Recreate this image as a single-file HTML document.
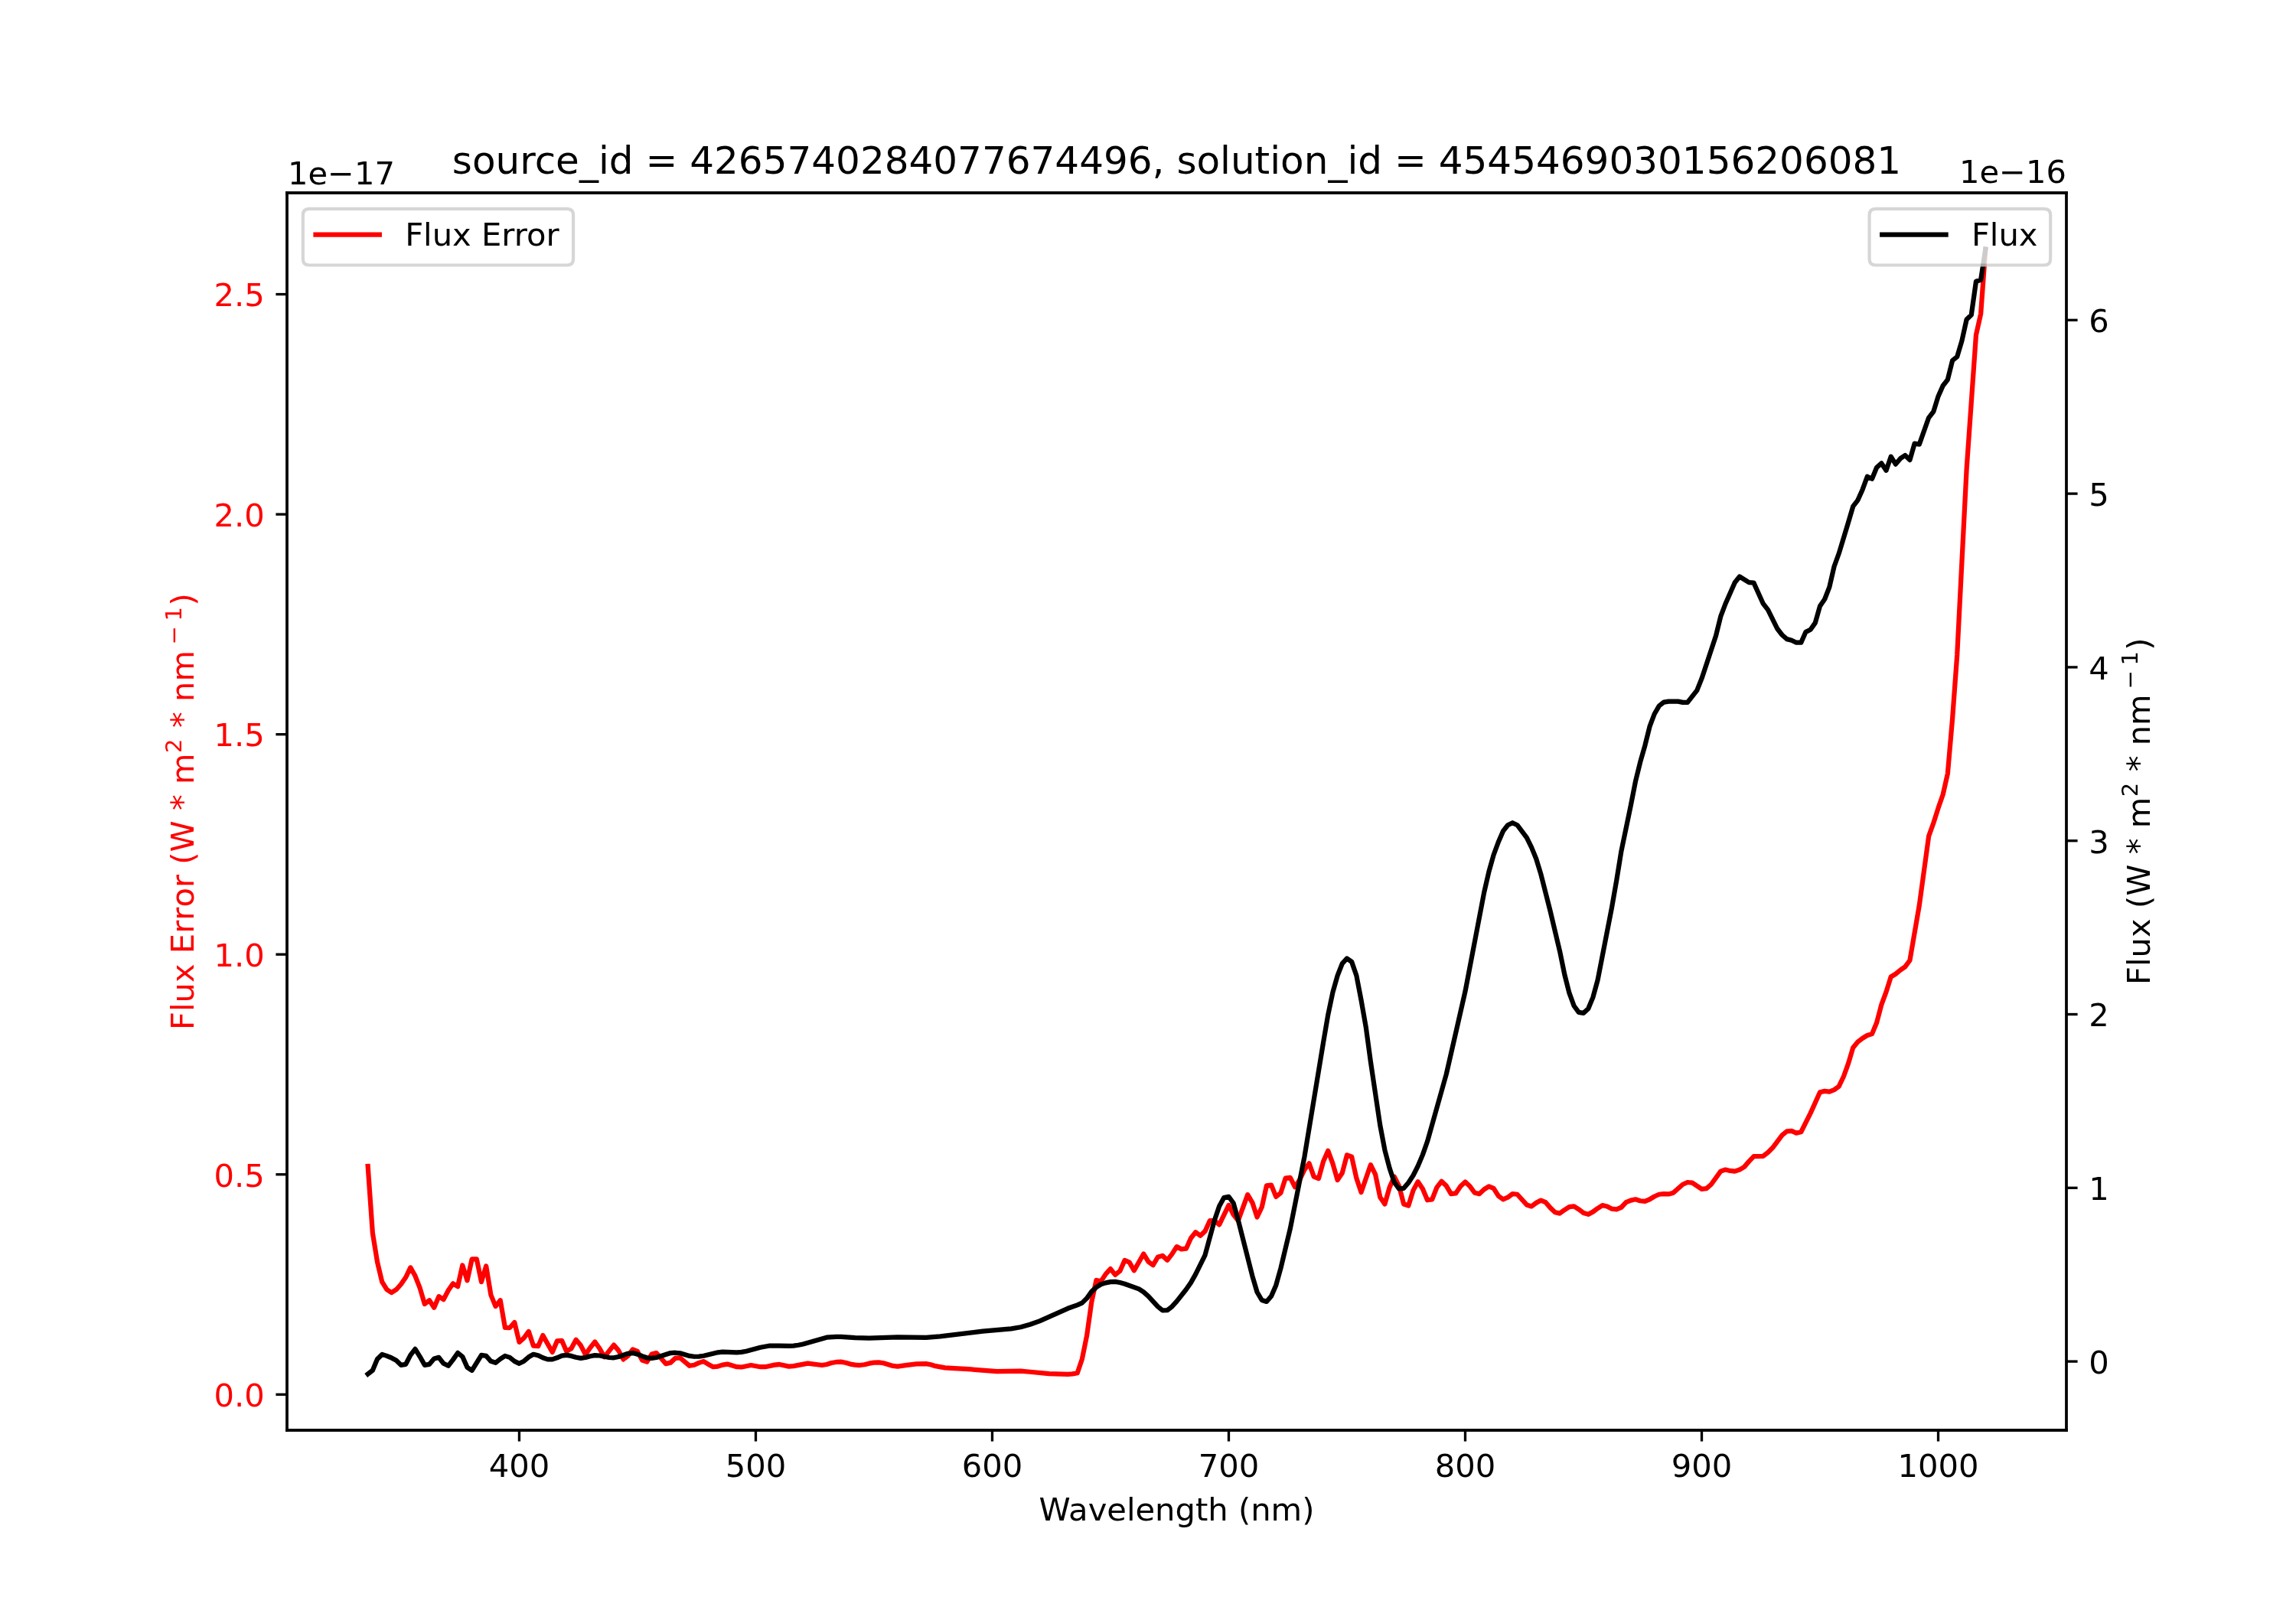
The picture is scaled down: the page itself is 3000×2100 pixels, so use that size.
<!DOCTYPE html>
<html><head><meta charset="utf-8"><style>html,body{margin:0;padding:0;background:#fff;overflow:hidden}svg{display:block;will-change:transform}</style></head><body>
<svg width="3000" height="2100" viewBox="0 0 720 504" version="1.1">
 <defs>
  <style type="text/css">*{stroke-linejoin: round; stroke-linecap: butt}</style>
 </defs>
 <g id="figure_1">
  <g id="patch_1">
   <path d="M 0 504 L 720 504 L 720 0 L 0 0 z" style="fill: #ffffff"/>
  </g>
  <g id="axes_1">
   <g id="patch_2">
    <path d="M 90 448.56 L 648 448.56 L 648 60.48 L 90 60.48 z" style="fill: #ffffff"/>
   </g>
   <g id="matplotlib.axis_1">
    <g id="xtick_1">
     <g id="line2d_1">
      <g>
       <path d="M 0 0 L 0 3.5" transform="translate(162.827751 448.56)" style="stroke: #000000; stroke-width: 0.8"/>
      </g>
     </g>
     <g id="text_1">
      <text style="font-size: 10px; font-family: 'DejaVu Sans', sans-serif; text-anchor: middle" x="162.827751" y="463.158437" transform="rotate(-0 162.827751 463.158437)">400</text>
     </g>
    </g>
    <g id="xtick_2">
     <g id="line2d_2">
      <g>
       <path d="M 0 0 L 0 3.5" transform="translate(236.990431 448.56)" style="stroke: #000000; stroke-width: 0.8"/>
      </g>
     </g>
     <g id="text_2">
      <text style="font-size: 10px; font-family: 'DejaVu Sans', sans-serif; text-anchor: middle" x="236.990431" y="463.158437" transform="rotate(-0 236.990431 463.158437)">500</text>
     </g>
    </g>
    <g id="xtick_3">
     <g id="line2d_3">
      <g>
       <path d="M 0 0 L 0 3.5" transform="translate(311.15311 448.56)" style="stroke: #000000; stroke-width: 0.8"/>
      </g>
     </g>
     <g id="text_3">
      <text style="font-size: 10px; font-family: 'DejaVu Sans', sans-serif; text-anchor: middle" x="311.15311" y="463.158437" transform="rotate(-0 311.15311 463.158437)">600</text>
     </g>
    </g>
    <g id="xtick_4">
     <g id="line2d_4">
      <g>
       <path d="M 0 0 L 0 3.5" transform="translate(385.315789 448.56)" style="stroke: #000000; stroke-width: 0.8"/>
      </g>
     </g>
     <g id="text_4">
      <text style="font-size: 10px; font-family: 'DejaVu Sans', sans-serif; text-anchor: middle" x="385.315789" y="463.158437" transform="rotate(-0 385.315789 463.158437)">700</text>
     </g>
    </g>
    <g id="xtick_5">
     <g id="line2d_5">
      <g>
       <path d="M 0 0 L 0 3.5" transform="translate(459.478469 448.56)" style="stroke: #000000; stroke-width: 0.8"/>
      </g>
     </g>
     <g id="text_5">
      <text style="font-size: 10px; font-family: 'DejaVu Sans', sans-serif; text-anchor: middle" x="459.478469" y="463.158437" transform="rotate(-0 459.478469 463.158437)">800</text>
     </g>
    </g>
    <g id="xtick_6">
     <g id="line2d_6">
      <g>
       <path d="M 0 0 L 0 3.5" transform="translate(533.641148 448.56)" style="stroke: #000000; stroke-width: 0.8"/>
      </g>
     </g>
     <g id="text_6">
      <text style="font-size: 10px; font-family: 'DejaVu Sans', sans-serif; text-anchor: middle" x="533.641148" y="463.158437" transform="rotate(-0 533.641148 463.158437)">900</text>
     </g>
    </g>
    <g id="xtick_7">
     <g id="line2d_7">
      <g>
       <path d="M 0 0 L 0 3.5" transform="translate(607.803828 448.56)" style="stroke: #000000; stroke-width: 0.8"/>
      </g>
     </g>
     <g id="text_7">
      <text style="font-size: 10px; font-family: 'DejaVu Sans', sans-serif; text-anchor: middle" x="607.803828" y="463.158437" transform="rotate(-0 607.803828 463.158437)">1000</text>
     </g>
    </g>
    <g id="text_8">
     <text style="font-size: 10px; font-family: 'DejaVu Sans', sans-serif; text-anchor: middle" x="369" y="476.836563" transform="rotate(-0 369 476.836563)">Wavelength (nm)</text>
    </g>
   </g>
   <g id="matplotlib.axis_2">
    <g id="ytick_1">
     <g id="line2d_8">
      <g>
       <path d="M 0 0 L -3.5 0" transform="translate(90 437.352)" style="stroke: #000000; stroke-width: 0.8"/>
      </g>
     </g>
     <g id="text_9">
      <text style="font-size: 10px; font-family: 'DejaVu Sans', sans-serif; text-anchor: end; fill: #ff0000" x="83" y="441.151219" transform="rotate(-0 83 441.151219)">0.0</text>
     </g>
    </g>
    <g id="ytick_2">
     <g id="line2d_9">
      <g>
       <path d="M 0 0 L -3.5 0" transform="translate(90 368.34)" style="stroke: #000000; stroke-width: 0.8"/>
      </g>
     </g>
     <g id="text_10">
      <text style="font-size: 10px; font-family: 'DejaVu Sans', sans-serif; text-anchor: end; fill: #ff0000" x="83" y="372.139219" transform="rotate(-0 83 372.139219)">0.5</text>
     </g>
    </g>
    <g id="ytick_3">
     <g id="line2d_10">
      <g>
       <path d="M 0 0 L -3.5 0" transform="translate(90 299.328)" style="stroke: #000000; stroke-width: 0.8"/>
      </g>
     </g>
     <g id="text_11">
      <text style="font-size: 10px; font-family: 'DejaVu Sans', sans-serif; text-anchor: end; fill: #ff0000" x="83" y="303.127219" transform="rotate(-0 83 303.127219)">1.0</text>
     </g>
    </g>
    <g id="ytick_4">
     <g id="line2d_11">
      <g>
       <path d="M 0 0 L -3.5 0" transform="translate(90 230.316)" style="stroke: #000000; stroke-width: 0.8"/>
      </g>
     </g>
     <g id="text_12">
      <text style="font-size: 10px; font-family: 'DejaVu Sans', sans-serif; text-anchor: end; fill: #ff0000" x="83" y="234.115219" transform="rotate(-0 83 234.115219)">1.5</text>
     </g>
    </g>
    <g id="ytick_5">
     <g id="line2d_12">
      <g>
       <path d="M 0 0 L -3.5 0" transform="translate(90 161.304)" style="stroke: #000000; stroke-width: 0.8"/>
      </g>
     </g>
     <g id="text_13">
      <text style="font-size: 10px; font-family: 'DejaVu Sans', sans-serif; text-anchor: end; fill: #ff0000" x="83" y="165.103219" transform="rotate(-0 83 165.103219)">2.0</text>
     </g>
    </g>
    <g id="ytick_6">
     <g id="line2d_13">
      <g>
       <path d="M 0 0 L -3.5 0" transform="translate(90 92.292)" style="stroke: #000000; stroke-width: 0.8"/>
      </g>
     </g>
     <g id="text_14">
      <text style="font-size: 10px; font-family: 'DejaVu Sans', sans-serif; text-anchor: end; fill: #ff0000" x="83" y="96.091219" transform="rotate(-0 83 96.091219)">2.5</text>
     </g>
    </g>
    <g id="text_15">
     <!-- Flux Error (W $*$ m$^2$ $*$ nm$^{-1}$) -->
     <g style="fill: #ff0000" transform="translate(61.593187 321.370000) rotate(-90)">
      <text>
       <tspan x="-1.680000" y="-0.976562" style="font-size: 10px; font-family: 'DejaVu Sans', sans-serif; fill: #ff0000">F</tspan>
       <tspan x="4.071953" y="-0.976562" style="font-size: 10px; font-family: 'DejaVu Sans', sans-serif; fill: #ff0000">l</tspan>
       <tspan x="6.850273" y="-0.976562" style="font-size: 10px; font-family: 'DejaVu Sans', sans-serif; fill: #ff0000">u</tspan>
       <tspan x="13.188164" y="-0.976562" style="font-size: 10px; font-family: 'DejaVu Sans', sans-serif; fill: #ff0000">x</tspan>
       <tspan x="19.106133" y="-0.976562" style="font-size: 10px; font-family: 'DejaVu Sans', sans-serif; fill: #ff0000"> </tspan>
       <tspan x="22.284844" y="-0.976562" style="font-size: 10px; font-family: 'DejaVu Sans', sans-serif; fill: #ff0000">E</tspan>
       <tspan x="28.603203" y="-0.976562" style="font-size: 10px; font-family: 'DejaVu Sans', sans-serif; fill: #ff0000">r</tspan>
       <tspan x="32.714531" y="-0.976562" style="font-size: 10px; font-family: 'DejaVu Sans', sans-serif; fill: #ff0000">r</tspan>
       <tspan x="36.825859" y="-0.976562" style="font-size: 10px; font-family: 'DejaVu Sans', sans-serif; fill: #ff0000">o</tspan>
       <tspan x="42.944023" y="-0.976562" style="font-size: 10px; font-family: 'DejaVu Sans', sans-serif; fill: #ff0000">r</tspan>
       <tspan x="47.055352" y="-0.976562" style="font-size: 10px; font-family: 'DejaVu Sans', sans-serif; fill: #ff0000"> </tspan>
       <tspan x="50.234062" y="-0.976562" style="font-size: 10px; font-family: 'DejaVu Sans', sans-serif; fill: #ff0000">(</tspan>
       <tspan x="54.135430" y="-0.976562" style="font-size: 10px; font-family: 'DejaVu Sans', sans-serif; fill: #ff0000">W</tspan>
       <tspan x="64.023125" y="-0.976562" style="font-size: 10px; font-family: 'DejaVu Sans', sans-serif; fill: #ff0000"> </tspan>
       <tspan x="67.201836" y="-0.976562" style="font-size: 10px; font-family: 'DejaVu Sans', sans-serif; fill: #ff0000">*</tspan>
       <tspan x="72.201836" y="-0.976562" style="font-size: 10px; font-family: 'DejaVu Sans', sans-serif; fill: #ff0000"> </tspan>
       <tspan x="75.380547" y="-0.976562" style="font-size: 10px; font-family: 'DejaVu Sans', sans-serif; fill: #ff0000">m</tspan>
       <tspan x="89.944512" y="-0.976562" style="font-size: 10px; font-family: 'DejaVu Sans', sans-serif; fill: #ff0000"> </tspan>
       <tspan x="93.123223" y="-0.976562" style="font-size: 10px; font-family: 'DejaVu Sans', sans-serif; fill: #ff0000">*</tspan>
       <tspan x="98.123223" y="-0.976562" style="font-size: 10px; font-family: 'DejaVu Sans', sans-serif; fill: #ff0000"> </tspan>
       <tspan x="101.301934" y="-0.976562" style="font-size: 10px; font-family: 'DejaVu Sans', sans-serif; fill: #ff0000">n</tspan>
       <tspan x="107.639824" y="-0.976562" style="font-size: 10px; font-family: 'DejaVu Sans', sans-serif; fill: #ff0000">m</tspan>
       <tspan x="131.429023" y="-0.976562" style="font-size: 10px; font-family: 'DejaVu Sans', sans-serif; fill: #ff0000">)</tspan>
       <tspan x="85.217461" y="-4.804688" style="font-size: 7px; font-family: 'DejaVu Sans', sans-serif; fill: #ff0000">2</tspan>
       <tspan x="119.156738" y="-4.804688" style="font-size: 7px; font-family: 'DejaVu Sans', sans-serif; fill: #ff0000">−</tspan>
       <tspan x="126.581973" y="-4.804688" style="font-size: 7px; font-family: 'DejaVu Sans', sans-serif; fill: #ff0000">1</tspan>
      </text>
     </g>
    </g>
    <g id="text_16">
     <text style="font-size: 10px; font-family: 'DejaVu Sans', sans-serif; text-anchor: start" x="90.24" y="57.72" transform="rotate(-0 90.24 57.72)">1e−17</text>
    </g>
   </g>
   <g id="line2d_14">
    <path d="M 115.363636 365.76 L 116.84689 386.706915 L 118.330144 395.824209 L 119.813397 402.046798 L 121.296651 404.448072 L 122.779904 405.408295 L 124.263158 404.457858 L 125.746411 402.786905 L 127.229665 400.637239 L 128.712919 397.532936 L 130.196172 400.145328 L 131.679426 403.965964 L 133.162679 408.981637 L 134.645933 407.804604 L 136.129187 410.088973 L 137.61244 406.616187 L 139.095694 407.559387 L 140.578947 404.702327 L 142.062201 402.549203 L 143.545455 403.4963 L 145.028708 396.826067 L 146.511962 401.573313 L 147.995215 394.913971 L 149.478469 394.894837 L 150.961722 402.044564 L 152.444976 397.060182 L 153.92823 406.102277 L 155.411483 409.703011 L 156.894737 407.806571 L 158.37799 416.380981 L 159.861244 416.405354 L 161.344498 414.73704 L 162.827751 420.92893 L 164.311005 419.61117 L 165.794258 417.58495 L 167.277512 422.094905 L 168.760766 422.198947 L 170.244019 418.821947 L 173.210526 424.073368 L 174.69378 420.57835 L 176.177033 420.443462 L 177.660287 423.820432 L 179.143541 422.954255 L 180.626794 420.199903 L 182.110048 421.943465 L 183.593301 424.825353 L 185.076555 422.70684 L 186.559809 420.824612 L 188.043062 422.945934 L 189.526316 425.578698 L 192.492823 421.828065 L 193.976077 423.574174 L 195.45933 426.331005 L 196.942584 425.212733 L 198.425837 423.208165 L 199.909091 423.828149 L 201.392344 426.581917 L 202.875598 427.089808 L 204.358852 424.714378 L 205.842105 424.332621 L 208.808612 427.713599 L 210.291866 427.343059 L 211.77512 425.965978 L 213.258373 425.837159 L 216.22488 428.342155 L 217.708134 428.095326 L 219.191388 427.409837 L 220.674641 426.970147 L 222.157895 427.910458 L 223.641148 428.694863 L 225.124402 428.540577 L 226.607656 428.071025 L 228.090909 427.819568 L 231.057416 428.695709 L 232.54067 428.759506 L 235.507177 428.164595 L 238.473684 428.69613 L 239.956938 428.696954 L 242.923445 428.070595 L 244.406699 427.913389 L 247.373206 428.539342 L 248.856459 428.446327 L 253.30622 427.599795 L 257.755981 428.163608 L 259.239234 427.913625 L 260.722488 427.443804 L 262.205742 427.192366 L 263.688995 427.129164 L 265.172249 427.379233 L 266.655502 427.817779 L 268.138756 428.069133 L 269.62201 428.163611 L 271.105263 427.976176 L 272.588517 427.600345 L 274.07177 427.349153 L 275.555024 427.285957 L 277.038278 427.504756 L 280.004785 428.382335 L 281.488038 428.539764 L 284.454545 428.133122 L 287.421053 427.756576 L 290.38756 427.722718 L 291.870813 427.973001 L 293.354067 428.442841 L 296.320574 428.976571 L 299.287081 429.165115 L 303.736842 429.41591 L 312.636364 430.105964 L 320.052632 430.011888 L 323.019139 430.262457 L 328.952153 430.827072 L 334.885167 430.984018 L 336.368421 430.902898 L 337.851675 430.62779 L 339.334928 426.22399 L 340.818182 418.91591 L 342.301435 408.371151 L 343.784689 401.502322 L 345.267943 401.841178 L 346.751196 399.561683 L 348.23445 397.946649 L 349.717703 399.820793 L 351.200957 398.617961 L 352.684211 395.261644 L 354.167464 395.92448 L 355.650718 398.474716 L 358.617225 393.242912 L 360.100478 395.682948 L 361.583732 396.78366 L 363.066986 394.283282 L 364.550239 393.808181 L 366.033493 395.214998 L 367.516746 393.34104 L 369 390.990187 L 370.483254 391.76696 L 371.966507 391.612323 L 373.449761 388.326794 L 374.933014 386.44202 L 376.416268 387.53279 L 377.899522 386.127345 L 379.382775 382.838916 L 380.866029 382.831437 L 382.349282 384.082959 L 385.315789 377.977864 L 386.799043 380.945285 L 388.282297 382.795844 L 391.248804 374.686828 L 392.732057 377.181201 L 394.215311 381.723715 L 395.698565 378.604962 L 397.181818 371.870788 L 398.665072 371.682035 L 400.148325 375.346976 L 401.631579 374.133345 L 403.114833 369.519139 L 404.598086 369.311497 L 406.08134 372.287321 L 407.564593 369.984397 L 409.047847 366.892607 L 410.5311 364.859405 L 412.014354 369.026987 L 413.497608 369.632145 L 414.980861 364.269365 L 416.464115 360.919975 L 417.947368 364.965588 L 419.430622 370.100154 L 420.913876 367.846429 L 422.397129 362.238919 L 423.880383 362.822802 L 425.363636 369.499574 L 426.84689 373.92459 L 429.813397 365.341763 L 431.296651 368.312973 L 432.779904 375.4718 L 434.263158 377.632847 L 435.746411 372.392271 L 437.229665 369.043243 L 438.712919 371.897156 L 440.196172 377.625293 L 441.679426 378.114272 L 443.162679 373.346864 L 444.645933 370.594934 L 446.129187 372.854164 L 447.61244 376.386 L 449.095694 376.177343 L 450.578947 372.391878 L 452.062201 370.509192 L 453.545455 371.913489 L 455.028708 374.419934 L 456.511962 374.26868 L 457.995215 372.077771 L 459.478469 370.664985 L 460.961722 372.070311 L 462.444976 374.10736 L 463.92823 374.424505 L 465.411483 373.016891 L 466.894737 372.075151 L 468.37799 372.699121 L 469.861244 375.047529 L 471.344498 376.14766 L 472.827751 375.523991 L 474.311005 374.427378 L 475.794258 374.581627 L 478.760766 377.87116 L 480.244019 378.34408 L 481.727273 377.249669 L 483.210526 376.46506 L 484.69378 377.08941 L 486.177033 378.811963 L 487.660287 380.223752 L 489.143541 380.539534 L 490.626794 379.444776 L 492.110048 378.50369 L 493.593301 378.345338 L 495.076555 379.283938 L 496.559809 380.381198 L 498.043062 380.852823 L 499.526316 380.071315 L 501.009569 378.974362 L 502.492823 378.03328 L 503.976077 378.344415 L 505.45933 379.127474 L 506.942584 379.285493 L 508.425837 378.659837 L 509.909091 377.093708 L 511.392344 376.464701 L 512.875598 376.150502 L 514.358852 376.619374 L 515.842105 376.745133 L 517.325359 376.139448 L 518.808612 375.23662 L 520.291866 374.578909 L 521.77512 374.413656 L 523.258373 374.51174 L 524.741627 374.085536 L 527.708134 371.458265 L 529.191388 370.79978 L 530.674641 370.962537 L 533.641148 372.932705 L 535.124402 372.770557 L 536.607656 371.458235 L 539.574163 367.352025 L 541.057416 366.856032 L 542.54067 367.183123 L 544.023923 367.347738 L 545.507177 366.856026 L 546.990431 365.969482 L 548.473684 364.229374 L 549.956938 362.684498 L 552.923445 362.583073 L 554.406699 361.435009 L 555.889952 359.956821 L 558.856459 356.014281 L 560.339713 354.797016 L 561.822967 354.696406 L 563.30622 355.352279 L 564.789474 355.025438 L 567.755981 349.115014 L 570.722488 342.543207 L 572.205742 342.209308 L 573.688995 342.372739 L 575.172249 341.782567 L 576.655502 340.7318 L 578.138756 337.613577 L 579.62201 333.50757 L 581.105263 328.534515 L 582.588517 326.736529 L 584.07177 325.615106 L 585.555024 324.718519 L 587.038278 324.269639 L 588.521531 320.69033 L 590.004785 315.092623 L 591.488038 311.057024 L 592.971292 306.353167 L 594.454545 305.450388 L 595.937799 304.241067 L 597.421053 303.210134 L 598.904306 301.19539 L 601.870813 283.955162 L 604.837321 262.225885 L 606.320574 258.118919 L 607.803828 253.462222 L 609.287081 249.192054 L 610.770335 242.597647 L 612.253589 225.537242 L 613.736842 205.359311 L 616.703349 147.223704 L 619.669856 105.050631 L 621.15311 98.423641 L 622.636364 78.153551 L 622.636364 78.153551" clip-path="url(#pfe07b72ad8)" style="fill: none; stroke: #ff0000; stroke-width: 1.5; stroke-linecap: square"/>
   </g>
   <g id="patch_3">
    <path d="M 90 448.56 L 90 60.48" style="fill: none; stroke: #000000; stroke-width: 0.8; stroke-linejoin: miter; stroke-linecap: square"/>
   </g>
   <g id="patch_4">
    <path d="M 648 448.56 L 648 60.48" style="fill: none; stroke: #000000; stroke-width: 0.8; stroke-linejoin: miter; stroke-linecap: square"/>
   </g>
   <g id="patch_5">
    <path d="M 90 448.56 L 648 448.56" style="fill: none; stroke: #000000; stroke-width: 0.8; stroke-linejoin: miter; stroke-linecap: square"/>
   </g>
   <g id="patch_6">
    <path d="M 90 60.48 L 648 60.48" style="fill: none; stroke: #000000; stroke-width: 0.8; stroke-linejoin: miter; stroke-linecap: square"/>
   </g>
   <g id="text_17">
    <text style="font-size: 12px; font-family: 'DejaVu Sans', sans-serif; text-anchor: middle" x="369" y="54.48" transform="rotate(-0 369 54.48)">source_id = 4265740284077674496, solution_id = 4545469030156206081</text>
   </g>
   <g id="legend_1">
    <g id="patch_7">
     <path d="M 97 83.158125 L 177.784375 83.158125 Q 179.784375 83.158125 179.784375 81.158125 L 179.784375 67.48 Q 179.784375 65.48 177.784375 65.48 L 97 65.48 Q 95 65.48 95 67.48 L 95 81.158125 Q 95 83.158125 97 83.158125 z" style="fill: #ffffff; opacity: 0.8; stroke: #cccccc; stroke-linejoin: miter"/>
    </g>
    <g id="line2d_15">
     <path d="M 99 73.578438 L 109 73.578438 L 119 73.578438" style="fill: none; stroke: #ff0000; stroke-width: 1.5; stroke-linecap: square"/>
    </g>
    <g id="text_18">
     <text style="font-size: 10px; font-family: 'DejaVu Sans', sans-serif; text-anchor: start" x="127" y="77.078438" transform="rotate(-0 127 77.078438)">Flux Error</text>
    </g>
   </g>
  </g>
  <g id="axes_2">
   <g id="matplotlib.axis_3">
    <g id="ytick_7">
     <g id="line2d_16">
      <g>
       <path d="M 0 0 L 3.5 0" transform="translate(648 426.984)" style="stroke: #000000; stroke-width: 0.8"/>
      </g>
     </g>
     <g id="text_19">
      <text style="font-size: 10px; font-family: 'DejaVu Sans', sans-serif; text-anchor: start" x="655" y="430.783219" transform="rotate(-0 655 430.783219)">0</text>
     </g>
    </g>
    <g id="ytick_8">
     <g id="line2d_17">
      <g>
       <path d="M 0 0 L 3.5 0" transform="translate(648 372.552)" style="stroke: #000000; stroke-width: 0.8"/>
      </g>
     </g>
     <g id="text_20">
      <text style="font-size: 10px; font-family: 'DejaVu Sans', sans-serif; text-anchor: start" x="655" y="376.351219" transform="rotate(-0 655 376.351219)">1</text>
     </g>
    </g>
    <g id="ytick_9">
     <g id="line2d_18">
      <g>
       <path d="M 0 0 L 3.5 0" transform="translate(648 318.12)" style="stroke: #000000; stroke-width: 0.8"/>
      </g>
     </g>
     <g id="text_21">
      <text style="font-size: 10px; font-family: 'DejaVu Sans', sans-serif; text-anchor: start" x="655" y="321.919219" transform="rotate(-0 655 321.919219)">2</text>
     </g>
    </g>
    <g id="ytick_10">
     <g id="line2d_19">
      <g>
       <path d="M 0 0 L 3.5 0" transform="translate(648 263.688)" style="stroke: #000000; stroke-width: 0.8"/>
      </g>
     </g>
     <g id="text_22">
      <text style="font-size: 10px; font-family: 'DejaVu Sans', sans-serif; text-anchor: start" x="655" y="267.487219" transform="rotate(-0 655 267.487219)">3</text>
     </g>
    </g>
    <g id="ytick_11">
     <g id="line2d_20">
      <g>
       <path d="M 0 0 L 3.5 0" transform="translate(648 209.256)" style="stroke: #000000; stroke-width: 0.8"/>
      </g>
     </g>
     <g id="text_23">
      <text style="font-size: 10px; font-family: 'DejaVu Sans', sans-serif; text-anchor: start" x="655" y="213.055219" transform="rotate(-0 655 213.055219)">4</text>
     </g>
    </g>
    <g id="ytick_12">
     <g id="line2d_21">
      <g>
       <path d="M 0 0 L 3.5 0" transform="translate(648 154.824)" style="stroke: #000000; stroke-width: 0.8"/>
      </g>
     </g>
     <g id="text_24">
      <text style="font-size: 10px; font-family: 'DejaVu Sans', sans-serif; text-anchor: start" x="655" y="158.623219" transform="rotate(-0 655 158.623219)">5</text>
     </g>
    </g>
    <g id="ytick_13">
     <g id="line2d_22">
      <g>
       <path d="M 0 0 L 3.5 0" transform="translate(648 100.392)" style="stroke: #000000; stroke-width: 0.8"/>
      </g>
     </g>
     <g id="text_25">
      <text style="font-size: 10px; font-family: 'DejaVu Sans', sans-serif; text-anchor: start" x="655" y="104.191219" transform="rotate(-0 655 104.191219)">6</text>
     </g>
    </g>
    <g id="text_26">
     <!-- Flux (W $*$ m$^2$ $*$ nm$^{-1}$) -->
     <g transform="translate(675.102812 307.420000) rotate(-90)">
      <text>
       <tspan x="-1.440000" y="-0.976562" style="font-size: 10px; font-family: 'DejaVu Sans', sans-serif">F</tspan>
       <tspan x="4.311953" y="-0.976562" style="font-size: 10px; font-family: 'DejaVu Sans', sans-serif">l</tspan>
       <tspan x="7.090273" y="-0.976562" style="font-size: 10px; font-family: 'DejaVu Sans', sans-serif">u</tspan>
       <tspan x="13.428164" y="-0.976562" style="font-size: 10px; font-family: 'DejaVu Sans', sans-serif">x</tspan>
       <tspan x="19.346133" y="-0.976562" style="font-size: 10px; font-family: 'DejaVu Sans', sans-serif"> </tspan>
       <tspan x="22.524844" y="-0.976562" style="font-size: 10px; font-family: 'DejaVu Sans', sans-serif">(</tspan>
       <tspan x="26.426211" y="-0.976562" style="font-size: 10px; font-family: 'DejaVu Sans', sans-serif">W</tspan>
       <tspan x="36.313906" y="-0.976562" style="font-size: 10px; font-family: 'DejaVu Sans', sans-serif"> </tspan>
       <tspan x="39.492617" y="-0.976562" style="font-size: 10px; font-family: 'DejaVu Sans', sans-serif">*</tspan>
       <tspan x="44.492617" y="-0.976562" style="font-size: 10px; font-family: 'DejaVu Sans', sans-serif"> </tspan>
       <tspan x="47.671328" y="-0.976562" style="font-size: 10px; font-family: 'DejaVu Sans', sans-serif">m</tspan>
       <tspan x="62.235293" y="-0.976562" style="font-size: 10px; font-family: 'DejaVu Sans', sans-serif"> </tspan>
       <tspan x="65.414004" y="-0.976562" style="font-size: 10px; font-family: 'DejaVu Sans', sans-serif">*</tspan>
       <tspan x="70.414004" y="-0.976562" style="font-size: 10px; font-family: 'DejaVu Sans', sans-serif"> </tspan>
       <tspan x="73.592715" y="-0.976562" style="font-size: 10px; font-family: 'DejaVu Sans', sans-serif">n</tspan>
       <tspan x="79.930605" y="-0.976562" style="font-size: 10px; font-family: 'DejaVu Sans', sans-serif">m</tspan>
       <tspan x="103.479805" y="-0.976562" style="font-size: 10px; font-family: 'DejaVu Sans', sans-serif">)</tspan>
       <tspan x="57.508242" y="-4.804688" style="font-size: 7px; font-family: 'DejaVu Sans', sans-serif">2</tspan>
       <tspan x="91.327520" y="-4.804688" style="font-size: 7px; font-family: 'DejaVu Sans', sans-serif">−</tspan>
       <tspan x="98.752754" y="-4.804688" style="font-size: 7px; font-family: 'DejaVu Sans', sans-serif">1</tspan>
      </text>
     </g>
    </g>
    <g id="text_27">
     <text style="font-size: 10px; font-family: 'DejaVu Sans', sans-serif; text-anchor: end" x="648" y="57.48" transform="rotate(-0 648 57.48)">1e−16</text>
    </g>
   </g>
   <g id="line2d_23">
    <path d="M 115.363636 430.92 L 116.84689 429.792996 L 118.330144 426.215109 L 119.813397 424.774757 L 121.296651 425.247167 L 122.779904 425.868164 L 124.263158 426.680228 L 125.746411 428.112454 L 127.229665 427.878325 L 128.712919 425.017901 L 130.196172 423.103067 L 131.679426 425.480639 L 133.162679 428.109019 L 134.645933 427.87832 L 136.129187 426.114097 L 137.61244 425.727681 L 139.095694 427.633113 L 140.578947 428.353577 L 142.062201 426.44909 L 143.545455 424.298717 L 145.028708 425.484146 L 146.511962 428.824073 L 147.995215 429.786942 L 150.961722 425.016376 L 152.444976 425.247885 L 153.92823 426.916848 L 155.411483 427.39826 L 156.894737 426.207979 L 158.37799 425.251274 L 159.861244 425.725225 L 161.344498 426.91823 L 162.827751 427.6366 L 164.311005 426.883089 L 165.794258 425.597169 L 167.277512 424.741631 L 168.760766 425.083243 L 170.244019 425.834712 L 171.727273 426.337158 L 173.210526 426.338562 L 174.69378 425.838222 L 176.177033 425.211394 L 177.660287 425.009508 L 179.143541 425.259123 L 180.626794 425.710133 L 182.110048 425.961561 L 183.593301 425.762116 L 185.076555 425.33626 L 186.559809 425.084904 L 188.043062 425.159264 L 191.009569 425.760871 L 192.492823 425.836615 L 193.976077 425.511585 L 196.942584 424.508444 L 198.425837 424.33208 L 199.909091 424.706879 L 201.392344 425.333373 L 202.875598 425.835457 L 204.358852 425.961916 L 205.842105 425.762105 L 210.291866 424.332617 L 211.77512 424.256542 L 213.258373 424.406456 L 216.22488 425.258675 L 217.708134 425.459978 L 219.191388 425.407442 L 220.674641 425.222777 L 225.124402 424.150731 L 226.607656 423.993518 L 229.574163 424.086929 L 231.057416 424.14973 L 232.54067 424.056068 L 234.023923 423.774333 L 238.473684 422.582934 L 241.440191 422.049417 L 244.406699 422.04876 L 247.373206 422.11156 L 248.856459 422.049005 L 250.339713 421.861177 L 251.822967 421.547911 L 259.239234 419.446851 L 262.205742 419.226691 L 263.688995 419.22653 L 268.138756 419.53988 L 272.588517 419.665556 L 281.488038 419.383325 L 290.38756 419.506655 L 294.837321 419.130773 L 308.186603 417.500021 L 317.086124 416.716119 L 320.052632 416.214678 L 323.019139 415.368436 L 325.985646 414.333736 L 330.435407 412.358487 L 334.885167 410.351352 L 337.851675 409.27735 L 339.334928 408.627809 L 340.818182 407.184617 L 342.301435 405.09135 L 343.784689 403.711802 L 345.267943 402.785375 L 346.751196 402.327127 L 348.23445 402.030947 L 349.717703 401.976597 L 351.200957 402.244748 L 352.684211 402.647796 L 357.133971 404.254715 L 358.617225 405.213769 L 360.100478 406.508993 L 363.066986 409.772115 L 364.550239 410.973229 L 366.033493 410.928111 L 367.516746 409.778651 L 369 408.14775 L 371.966507 404.404287 L 373.449761 402.268884 L 374.933014 399.630026 L 377.899522 393.606825 L 380.866029 382.686731 L 382.349282 378.294318 L 383.832536 375.624886 L 385.315789 375.30598 L 386.799043 377.339017 L 388.282297 382.662655 L 392.732057 400.223065 L 394.215311 405.241931 L 395.698565 407.756266 L 397.181818 408.231198 L 398.665072 406.511332 L 400.148325 403.065659 L 401.631579 397.73878 L 404.598086 385.333542 L 407.564593 370.383838 L 409.047847 362.896443 L 414.980861 326.948413 L 416.464115 318.258915 L 417.947368 311.175387 L 419.430622 305.967191 L 420.913876 302.199489 L 422.397129 300.581439 L 423.880383 301.651219 L 425.363636 305.946631 L 426.84689 313.663388 L 428.330144 322.061966 L 429.813397 332.952648 L 432.779904 352.898678 L 434.263158 360.703371 L 435.746411 366.347997 L 437.229665 370.790568 L 438.712919 372.811725 L 440.196172 372.672305 L 441.679426 370.923702 L 443.162679 368.644809 L 444.645933 365.694215 L 446.129187 362.191364 L 447.61244 357.968862 L 453.545455 336.903779 L 456.511962 323.941539 L 459.478469 310.932886 L 465.411483 279.846423 L 466.894737 273.391375 L 468.37799 268.145178 L 469.861244 264.109075 L 471.344498 260.679255 L 472.827751 258.780326 L 474.311005 258.051894 L 475.794258 258.774999 L 478.760766 262.685004 L 480.244019 265.70819 L 481.727273 269.337236 L 483.210526 274.175157 L 486.177033 285.870252 L 489.143541 298.374097 L 490.626794 305.608019 L 492.110048 311.437175 L 493.593301 315.474362 L 495.076555 317.495172 L 496.559809 317.722807 L 498.043062 316.38136 L 499.526316 312.800327 L 501.009569 307.42568 L 505.45933 284.572848 L 506.942584 276.059159 L 508.425837 266.897807 L 511.392344 252.613939 L 512.875598 245.054607 L 514.358852 239.027617 L 515.842105 233.841977 L 517.325359 227.862357 L 518.808612 223.921712 L 520.291866 221.371759 L 521.77512 220.211242 L 523.258373 219.977902 L 526.22488 219.97746 L 527.708134 220.301045 L 529.191388 220.30166 L 532.157895 216.507387 L 533.641148 212.805729 L 538.090909 199.375877 L 539.574163 193.358041 L 541.057416 189.417437 L 544.023923 182.700566 L 545.507177 180.845417 L 548.473684 182.676052 L 549.956938 182.796965 L 552.923445 189.344763 L 554.406699 191.258356 L 557.373206 197.22908 L 558.856459 199.142583 L 560.339713 200.433858 L 561.822967 200.817769 L 563.30622 201.533913 L 564.789474 201.535206 L 566.272727 198.196401 L 567.755981 197.474931 L 569.239234 195.327255 L 570.722488 190.076654 L 572.205742 187.920863 L 573.688995 184.101183 L 575.172249 177.655117 L 576.655502 173.589303 L 579.62201 163.795428 L 581.105263 158.778188 L 582.588517 156.861395 L 584.07177 153.519084 L 585.555024 149.458763 L 587.038278 150.167162 L 588.521531 146.590917 L 590.004785 145.296779 L 591.488038 147.536452 L 592.971292 143.209523 L 594.454545 145.586509 L 595.937799 143.802285 L 597.421053 142.797699 L 598.904306 144.274385 L 600.38756 139.113322 L 601.870813 139.342876 L 604.837321 130.99197 L 606.320574 129.077865 L 607.803828 124.306584 L 609.287081 120.960865 L 610.770335 119.047992 L 612.253589 113.084655 L 613.736842 111.882598 L 615.220096 106.874058 L 616.703349 100.190261 L 618.186603 98.748654 L 619.669856 88.256258 L 621.15311 87.761986 L 622.636364 78.13594 L 622.636364 78.13594" clip-path="url(#pfe07b72ad8)" style="fill: none; stroke: #000000; stroke-width: 1.5; stroke-linecap: square"/>
   </g>
   <g id="patch_8">
    <path d="M 90 448.56 L 90 60.48" style="fill: none; stroke: #000000; stroke-width: 0.8; stroke-linejoin: miter; stroke-linecap: square"/>
   </g>
   <g id="patch_9">
    <path d="M 648 448.56 L 648 60.48" style="fill: none; stroke: #000000; stroke-width: 0.8; stroke-linejoin: miter; stroke-linecap: square"/>
   </g>
   <g id="patch_10">
    <path d="M 90 448.56 L 648 448.56" style="fill: none; stroke: #000000; stroke-width: 0.8; stroke-linejoin: miter; stroke-linecap: square"/>
   </g>
   <g id="patch_11">
    <path d="M 90 60.48 L 648 60.48" style="fill: none; stroke: #000000; stroke-width: 0.8; stroke-linejoin: miter; stroke-linecap: square"/>
   </g>
   <g id="legend_2">
    <g id="patch_12">
     <path d="M 588.214062 83.158125 L 641 83.158125 Q 643 83.158125 643 81.158125 L 643 67.48 Q 643 65.48 641 65.48 L 588.214062 65.48 Q 586.214062 65.48 586.214062 67.48 L 586.214062 81.158125 Q 586.214062 83.158125 588.214062 83.158125 z" style="fill: #ffffff; opacity: 0.8; stroke: #cccccc; stroke-linejoin: miter"/>
    </g>
    <g id="line2d_24">
     <path d="M 590.214062 73.578438 L 600.214062 73.578438 L 610.214062 73.578438" style="fill: none; stroke: #000000; stroke-width: 1.5; stroke-linecap: square"/>
    </g>
    <g id="text_28">
     <text style="font-size: 10px; font-family: 'DejaVu Sans', sans-serif; text-anchor: start" x="618.214062" y="77.078438" transform="rotate(-0 618.214062 77.078438)">Flux</text>
    </g>
   </g>
  </g>
 </g>
 <defs>
  <clipPath id="pfe07b72ad8">
   <rect x="90" y="60.48" width="558" height="388.08"/>
  </clipPath>
 </defs>
</svg>

</body></html>
